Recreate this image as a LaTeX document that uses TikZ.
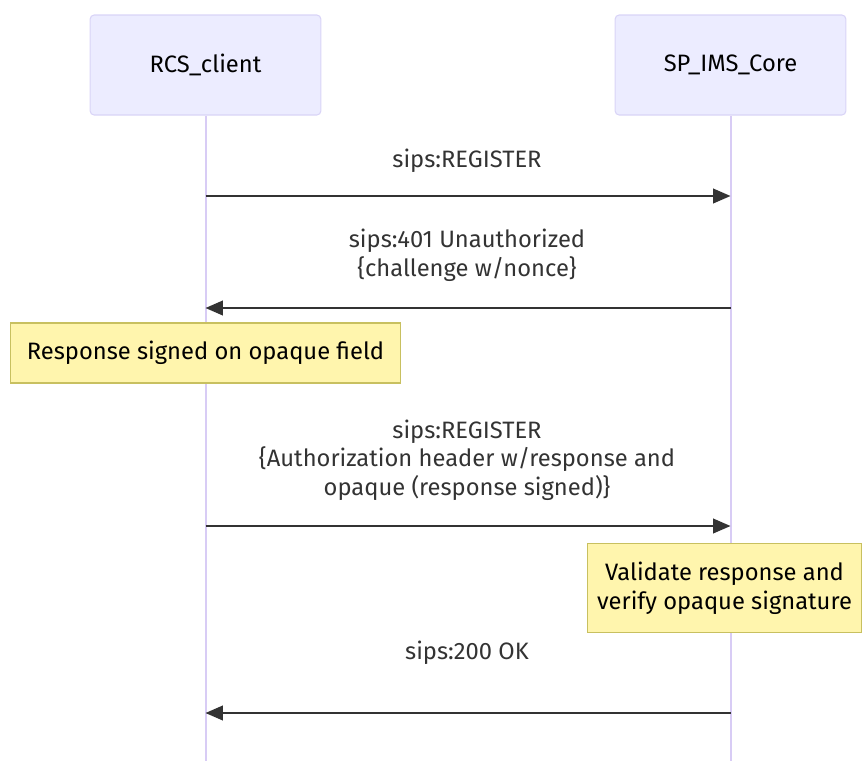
\documentclass[tikz,border=0pt]{standalone}
\usepackage{fontspec}
\setmainfont{Fira Sans}
\usetikzlibrary{arrows.meta}
\definecolor{actorfill}{HTML}{ECECFF}
\definecolor{actorline}{HTML}{D9D4F7}
\definecolor{lifeline}{HTML}{D8CCF5}
\definecolor{notefill}{HTML}{FFF5AD}
\definecolor{noteline}{HTML}{C8C060}
\definecolor{ink}{HTML}{333333}
\tikzset{
  actor/.style={draw=actorline,fill=actorfill,rounded corners=3pt,line width=0.8pt,
    minimum width=173pt,minimum height=75pt,text=black,font=\msgfont},
  life/.style={draw=lifeline,line width=1.5pt},
  msg/.style={draw=ink,line width=1.2pt,-{Triangle[length=13pt,width=11pt]}},
  msglabel/.style={text=ink,align=center,font=\msgfont,inner sep=0pt},
  notebox/.style={draw=noteline,fill=notefill,line width=0.8pt,align=center,
    text=black,font=\msgfont,inner sep=0pt}
}
\newcommand{\msgfont}{\fontsize{17.8}{21.5}\selectfont}
\begin{document}
\begin{tikzpicture}[x=0.75pt,y=-0.75pt]
  \useasboundingbox (0,0) rectangle (864,761);

  % participants
  \node[actor] (client) at (205.5,65) {RCS\_client};
  \node[actor] (core) at (730.5,65) {SP\_IMS\_Core};
  \coordinate (clientEnd) at (205.5,761);
  \coordinate (coreEnd) at (730.5,761);
  \draw[life] (client.south) -- (clientEnd);
  \draw[life] (core.south) -- (coreEnd);

  % lifeline points
  \coordinate (c1) at (205.5,196);  \coordinate (s1) at (730.5,196);
  \coordinate (c2) at (205.5,308);  \coordinate (s2) at (730.5,308);
  \coordinate (c3) at (205.5,526);  \coordinate (s3) at (730.5,526);
  \coordinate (c4) at (205.5,713);  \coordinate (s4) at (730.5,713);

  % messages
  \node[msglabel] (m1) at (467,161) {sips:REGISTER};
  \draw[msg] (c1) -- (s1);
  \node[msglabel] (m2) at (467,255) {sips:401 Unauthorized\\\{challenge w/nonce\}};
  \draw[msg] (s2) -- (c2);
  \node[notebox,minimum width=293pt,minimum height=45pt] (n1) at (205.5,353)
    {Response signed on opaque field};
  \node[msglabel] (m3) at (467,460) {sips:REGISTER\\\{Authorization header w/response and\\opaque (response signed)\}};
  \draw[msg] (c3) -- (s3);
  \node[notebox,minimum width=206pt,minimum height=67pt] (n2) at (724.5,588)
    {Validate response and\\verify opaque signature};
  \node[msglabel] (m4) at (467,653) {sips:200 OK};
  \draw[msg] (s4) -- (c4);
\end{tikzpicture}
\end{document}
